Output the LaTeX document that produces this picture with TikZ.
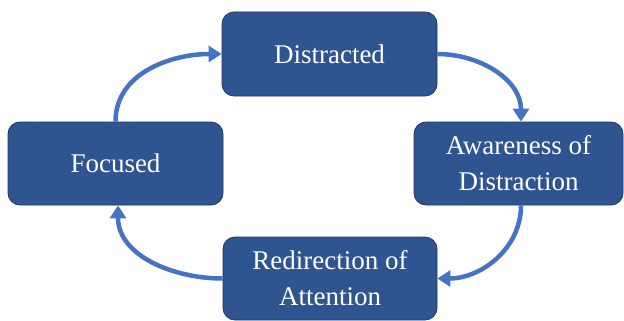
\documentclass[tikz,border=0pt]{standalone}
\usepackage{fontspec}
\setmainfont{Liberation Serif}
\usetikzlibrary{arrows.meta}
\definecolor{boxfill}{HTML}{2F5591}
\definecolor{boxline}{HTML}{1F3560}
\definecolor{arrowblue}{HTML}{4472C4}
\tikzset{
  statebox/.style={draw=boxline, line width=0.8pt, fill=boxfill, rounded corners=12pt,
    text=white, align=center, inner sep=0pt,
    font=\fontsize{27}{36}\selectfont},
  cyclearrow/.style={draw=arrowblue, line width=4.5pt,
    -{Triangle[length=13pt,width=16pt]}}
}
\begin{document}
\begin{tikzpicture}[x=1pt,y=-1pt]
\useasboundingbox (0,0) rectangle (624,321);
\node[statebox, minimum width=215pt, minimum height=84pt] (dis) at (329.5,54) {Distracted};
\node[statebox, minimum width=215pt, minimum height=83pt] (foc) at (115.5,163.5) {Focused};
\node[statebox, minimum width=209pt, minimum height=83pt] (awa) at (518.5,163.5) {Awareness of\\Distraction};
\node[statebox, minimum width=214pt, minimum height=83pt] (red) at (330,278.5) {Redirection of\\Attention};
\draw[cyclearrow] (foc.north) to[out=90,in=180] (dis.west);
\draw[cyclearrow] (dis.east) to[out=0,in=90] ([xshift=2.5pt]awa.north);
\draw[cyclearrow] ([xshift=2.5pt]awa.south) to[out=-90,in=0] (red.east);
\draw[cyclearrow] (red.west) to[out=180,in=-90] ([xshift=2.5pt]foc.south);
\end{tikzpicture}
\end{document}
